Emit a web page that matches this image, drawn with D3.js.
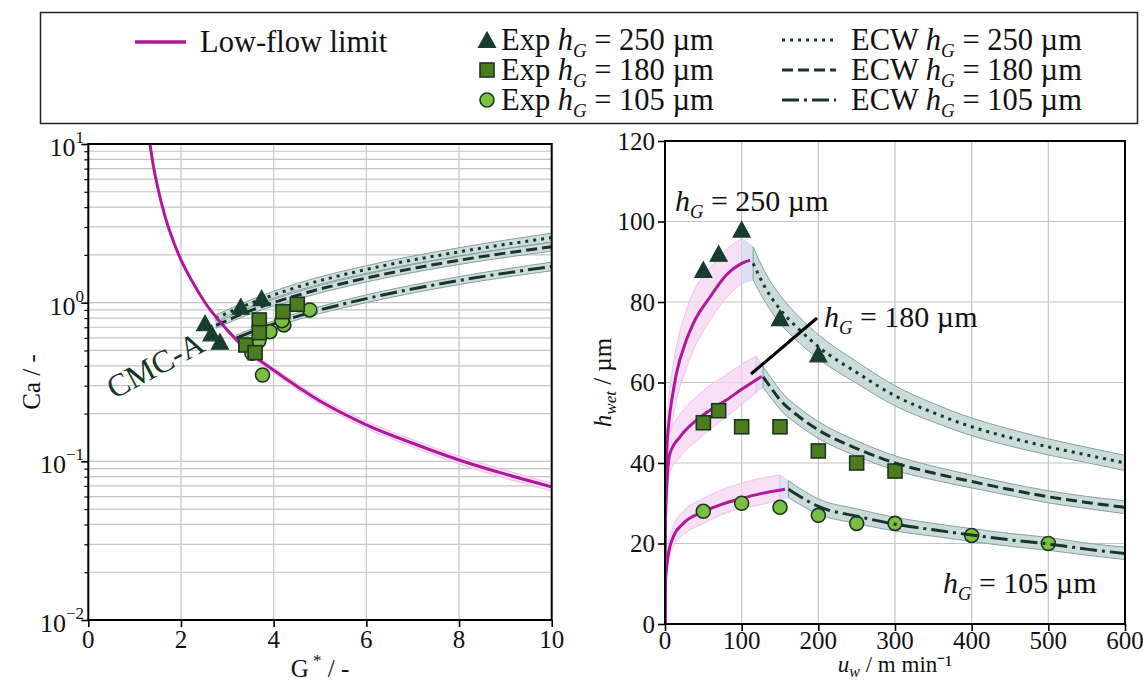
<!DOCTYPE html>
<html>
<head>
<meta charset="utf-8">
<script src="https://cdn.jsdelivr.net/npm/d3@7"></script>
<style>
  body { margin: 0; background: #fff; }
  svg { display: block; }
</style>
</head>
<body>
<svg id="fig" width="1143" height="682"></svg>
<script>
// ---------- Left panel: capillary number Ca vs. dimensionless gap G* ----------
const lowFlowCa = [[1.33,10],[1.4,7.4],[1.5,5.3],[1.65,3.55],[1.8,2.6],[2,1.86],[2.25,1.35],[2.5,1.02],[3,0.67],[3.5,0.48],[4,0.375],[5,0.24],[6,0.17],[7,0.13],[8,0.102],[9,0.083],[10,0.069]];
const lowFlowCaBand = [[3,0.65,0.69],[3.5,0.465,0.495],[4,0.36,0.39],[5,0.229,0.252],[6,0.161,0.179],[7,0.123,0.137],[8,0.096,0.108],[9,0.078,0.088],[10,0.065,0.073]];
const ecwCa250 = [[2.75,0.80],[3.5,0.99],[4.5,1.25],[6,1.62],[8,2.09],[10,2.57]];
const ecwCa250Band = [[2.75,0.765,0.836],[3.5,0.945,1.04],[4.5,1.19,1.32],[6,1.53,1.71],[8,1.97,2.22],[10,2.41,2.74]];
const ecwCa180 = [[2.76,0.72],[3.5,0.89],[4.5,1.11],[6,1.43],[8,1.85],[10,2.25]];
const ecwCa180Band = [[2.76,0.69,0.75],[3.5,0.85,0.93],[4.5,1.05,1.17],[6,1.35,1.51],[8,1.74,1.96],[10,2.11,2.4]];
const ecwCa105 = [[3.2,0.60],[4,0.735],[5,0.90],[6,1.06],[8,1.38],[10,1.69]];
const ecwCa105Band = [[3.2,0.575,0.626],[4,0.70,0.77],[5,0.855,0.945],[6,1.0,1.12],[8,1.30,1.46],[10,1.59,1.8]];
const expCa250 = [[2.52,0.742],[2.66,0.641],[2.84,0.568],[3.29,0.944],[3.74,1.066]];
const expCa180 = [[3.40,0.541],[3.6,0.484],[3.69,0.778],[3.69,0.647],[4.2,0.878],[4.51,0.977]];
const expCa105 = [[3.53,0.48],[3.76,0.35],[3.68,0.574],[3.92,0.656],[4.22,0.724],[4.18,0.77],[4.78,0.90]];
const gTicks = [0, 2, 4, 6, 8, 10];
const caDecades = [-2, -1, 0, 1];

// ---------- Right panel: wet film thickness vs. web speed ----------
const lowFlowH250 = [[0,0],[0.3,28],[1,35],[2,42],[5,50],[10,57],[15,62.3],[28,70.6],[37,74.7],[59,81.3],[80,86.7],[100,89.6],[111,90.4]];
const lowFlowH250Band = [[0,0,0],[0.3,24,32],[1,30,40],[2,36.5,47.5],[5,44,56],[10,50.5,63.5],[15,55.5,69],[28,63.5,78],[37,68,82.5],[59,75.5,88.5],[80,81,93],[100,84.6,95.8]];
const lowFlowH180 = [[0,0],[0.3,22],[1,28],[2.5,35],[6.5,42.4],[19.6,46.5],[41.3,50.7],[60,53.3],[80.5,55.7],[100,58.3],[126,61.5]];
const lowFlowH180Band = [[0,0,0],[0.3,19,25],[1,24.5,31.5],[2.5,31,39.5],[6.5,37.5,47.5],[19.6,41.5,52],[41.3,45.5,56.5],[60,48.5,59.5],[80.5,51.5,62],[100,54.5,64.5],[119,57.5,66.6]];
const lowFlowH105 = [[0,0],[0.3,8],[1,11.5],[2.2,14.2],[5,18],[10.9,21.7],[24,25],[50,27.9],[75,29.8],[100,31.2],[125,32.4],[156.5,33.5]];
const lowFlowH105Band = [[0,0,0],[0.3,7,9],[1,10,13],[2.2,12.5,16],[5,16,20.2],[10.9,19.3,24.3],[24,22.2,28],[50,25,31.2],[75,27.2,33.4],[100,28.8,35],[125,29.6,36.2],[150,31,37]];
const ecwH250 = [[115,89.6],[130,83.8],[150,78.2],[175,73.2],[200,68.9],[250,62.5],[300,56.7],[350,52.5],[400,49],[450,46.3],[500,44],[550,42],[600,40]];
const ecwH250Band = [[115,85.5,93.7],[130,80.2,87.6],[150,74.7,81.7],[175,69.9,76.3],[200,65.9,71.9],[250,59.8,65.2],[300,54.2,59.2],[350,50.2,54.8],[400,46.8,51.2],[450,44.2,48.4],[500,42,46],[550,40.1,43.9],[600,38.1,41.9]];
const ecwH180 = [[128,61.4],[140,58.2],[150,55.7],[175,51.5],[200,48.2],[250,43.6],[300,40],[350,37.5],[400,35.4],[450,33.4],[500,31.6],[550,30.2],[600,29]];
const ecwH180Band = [[128,58.8,64],[140,55.7,60.7],[150,53.3,58.1],[175,49.3,53.7],[200,46.1,50.3],[250,41.7,45.5],[300,38.2,41.8],[350,35.8,39.2],[400,33.8,37],[450,31.9,34.9],[500,30.1,33.1],[550,28.7,31.7],[600,27.4,30.6]];
const ecwH105 = [[161,33.5],[175,31.8],[200,29.2],[250,26.8],[300,24.8],[350,23.4],[400,22.1],[450,20.9],[500,19.9],[550,18.6],[600,17.5]];
const ecwH105Band = [[161,31.4,35.6],[175,29.8,33.8],[200,27.3,31.1],[250,25,28.6],[300,23.1,26.5],[350,21.8,25],[400,20.5,23.7],[450,19.3,22.5],[500,18.3,21.5],[550,17.1,20.1],[600,16,19.1]];
const expH250 = [[50,88],[70,92],[100,98],[150,76],[200,67]];
const expH180 = [[50,50],[70,53],[100,49],[150,49],[200,43],[250,40],[300,38]];
const expH105 = [[50,28],[100,30],[150,29],[200,27],[250,25],[300,25],[400,22],[500,20]];
const uTicks = [0, 100, 200, 300, 400, 500, 600];
const hTicks = [0, 20, 40, 60, 80, 100, 120];

// Gap heights shown in the legend and annotations
const gapHeights = [250, 180, 105];

// ---------- Styling ----------
const FONT = '"Liberation Serif","Times New Roman",serif';
const INK = '#17352b';
const MAGENTA = '#b0189c';
const TRI_FILL = '#173d30', SQ_FILL = '#4b7c1d', CI_FILL = '#7cbf40', EDGE = '#1b3524';
const BAND_FILL = '#c2d5d3', BAND_EDGE = '#84a39f';
const PINK_FILL = '#f6d4f1', PINK_EDGE = '#ecb6e4';
const LAV_FILL = '#dfdff6';
const GRID = '#c4c4c4';
const DASH = { 250: '3,5', 180: '11,5', 105: '17,5,3,5' };
const TICK_FS = 25, ANNOT_FS = 30, LEGEND_FS = 30.5;

const svg = d3.select('#fig');

function bandArea(x, y) {
  return d3.area().x(d => x(d[0])).y0(d => y(d[1])).y1(d => y(d[2])).curve(d3.curveMonotoneX);
}
function curveLine(x, y) {
  return d3.line().x(d => x(d[0])).y(d => y(d[1])).curve(d3.curveMonotoneX);
}
function drawMarkers(g, data, kind, x, y) {
  const sel = g.append('g');
  data.forEach(d => {
    const cx = x(d[0]), cy = y(d[1]);
    if (kind === 'tri') {
      sel.append('path').attr('d', `M${cx},${cy - 8}L${cx + 8.5},${cy + 7.5}L${cx - 8.5},${cy + 7.5}Z`)
        .attr('fill', TRI_FILL).attr('stroke', TRI_FILL).attr('stroke-width', 1.2).attr('stroke-linejoin', 'miter');
    } else if (kind === 'sq') {
      sel.append('rect').attr('x', cx - 7).attr('y', cy - 7).attr('width', 14).attr('height', 14)
        .attr('fill', SQ_FILL).attr('stroke', EDGE).attr('stroke-width', 1.6);
    } else {
      sel.append('circle').attr('cx', cx).attr('cy', cy).attr('r', 7)
        .attr('fill', CI_FILL).attr('stroke', EDGE).attr('stroke-width', 1.6);
    }
  });
}
function hG(sel, x, y, size, rest) {
  const t = sel.append('text').attr('x', x).attr('y', y).attr('font-family', FONT).attr('font-size', size).attr('fill', '#111');
  t.append('tspan').attr('font-style', 'italic').text('h');
  t.append('tspan').attr('font-style', 'italic').attr('font-size', size * 0.62).attr('dy', size * 0.22).text('G');
  t.append('tspan').attr('dy', -size * 0.22).text(rest);
  return t;
}

// =============== Left panel ===============
const L = { x0: 88.3, x1: 551.7, y0: 144, y1: 620 };
const xL = d3.scaleLinear().domain([0, 10]).range([L.x0, L.x1]);
const yL = d3.scaleLog().domain([0.01, 10]).range([L.y1, L.y0]);
const gL = svg.append('g');

svg.append('clipPath').attr('id', 'clipL').append('rect')
  .attr('x', L.x0).attr('y', L.y0).attr('width', L.x1 - L.x0).attr('height', L.y1 - L.y0);

const caMajor = caDecades.map(e => Math.pow(10, e));
const caMinor = [];
caDecades.slice(0, -1).forEach(e => { for (let m = 2; m <= 9; m++) caMinor.push(m * Math.pow(10, e)); });

// grid
const gridL = gL.append('g').attr('stroke', GRID).attr('stroke-width', 1.2);
gTicks.slice(1, -1).forEach(v => gridL.append('line').attr('x1', xL(v)).attr('x2', xL(v)).attr('y1', L.y0).attr('y2', L.y1));
caMajor.concat(caMinor).forEach(v => gridL.append('line').attr('x1', L.x0).attr('x2', L.x1).attr('y1', yL(v)).attr('y2', yL(v)));

const plotL = gL.append('g').attr('clip-path', 'url(#clipL)');
[ecwCa250Band, ecwCa180Band, ecwCa105Band].forEach(b => {
  plotL.append('path').attr('d', bandArea(xL, yL)(b)).attr('fill', BAND_FILL).attr('fill-opacity', 0.8)
    .attr('stroke', BAND_EDGE).attr('stroke-width', 1);
});
plotL.append('path').attr('d', bandArea(xL, yL)(lowFlowCaBand)).attr('fill', PINK_FILL).attr('fill-opacity', 0.8)
  .attr('stroke', PINK_EDGE).attr('stroke-width', 0.8);
[[ecwCa250, 250], [ecwCa180, 180], [ecwCa105, 105]].forEach(([d, k]) => {
  plotL.append('path').attr('d', curveLine(xL, yL)(d)).attr('fill', 'none').attr('stroke', INK)
    .attr('stroke-width', 3).attr('stroke-dasharray', DASH[k]);
});
plotL.append('path').attr('d', curveLine(xL, yL)(lowFlowCa)).attr('fill', 'none').attr('stroke', MAGENTA).attr('stroke-width', 3);
drawMarkers(plotL, expCa105, 'ci', xL, yL);
drawMarkers(plotL, expCa180, 'sq', xL, yL);
drawMarkers(plotL, expCa250, 'tri', xL, yL);

// material label
gL.append('text').attr('transform', `translate(${155},${365}) rotate(-28)`).attr('text-anchor', 'middle')
  .attr('font-family', FONT).attr('font-size', 32).attr('fill', INK).attr('dy', '0.35em').text('CMC-A');

// axes
gL.append('g').attr('transform', `translate(0,${L.y1})`)
  .call(d3.axisBottom(xL).tickValues(gTicks).tickSize(7).tickFormat(''))
  .call(a => a.select('.domain').remove()).selectAll('line').attr('stroke', '#000').attr('stroke-width', 1.6);
gL.append('g').attr('transform', `translate(${L.x0},0)`)
  .call(d3.axisLeft(yL).tickValues(caMajor).tickSize(7).tickFormat(''))
  .call(a => a.select('.domain').remove()).selectAll('line').attr('stroke', '#000').attr('stroke-width', 1.6);
gL.append('g').attr('transform', `translate(${L.x0},0)`)
  .call(d3.axisLeft(yL).tickValues(caMinor).tickSize(4).tickFormat(''))
  .call(a => a.select('.domain').remove()).selectAll('line').attr('stroke', '#000').attr('stroke-width', 1.2);
gL.append('rect').attr('x', L.x0).attr('y', L.y0).attr('width', L.x1 - L.x0).attr('height', L.y1 - L.y0)
  .attr('fill', 'none').attr('stroke', '#000').attr('stroke-width', 2);

gTicks.forEach(v => gL.append('text').attr('x', xL(v)).attr('y', 648).attr('text-anchor', 'middle')
  .attr('font-family', FONT).attr('font-size', TICK_FS).attr('fill', '#111').text(v));
caDecades.forEach(e => {
  const t = gL.append('text').attr('x', 84).attr('y', yL(Math.pow(10, e)) + 12).attr('text-anchor', 'end')
    .attr('font-family', FONT).attr('font-size', TICK_FS + 1).attr('fill', '#111');
  t.append('tspan').text('10');
  t.append('tspan').attr('font-size', 17).attr('dy', -13).text(e < 0 ? '\u2212' + Math.abs(e) : e);
});
gL.append('text').attr('transform', `translate(40,${(L.y0 + L.y1) / 2}) rotate(-90)`).attr('text-anchor', 'middle')
  .attr('font-family', FONT).attr('font-size', 25).attr('fill', '#111').text('Ca / -');
{
  const t = gL.append('text').attr('x', (L.x0 + L.x1) / 2).attr('y', 677).attr('text-anchor', 'middle')
    .attr('font-family', FONT).attr('font-size', 25).attr('fill', '#111');
  t.append('tspan').text('G');
  t.append('tspan').attr('font-size', 17).attr('dy', -11).text(' *');
  t.append('tspan').attr('dy', 11).text(' / -');
}

// =============== Right panel ===============
const R = { x0: 665, x1: 1125, y0: 141, y1: 624 };
const xR = d3.scaleLinear().domain([0, 600]).range([R.x0, R.x1]);
const yR = d3.scaleLinear().domain([0, 120]).range([R.y1, R.y0]);
const gR = svg.append('g');
svg.append('clipPath').attr('id', 'clipR').append('rect')
  .attr('x', R.x0).attr('y', R.y0).attr('width', R.x1 - R.x0).attr('height', R.y1 - R.y0);

const gridR = gR.append('g').attr('stroke', GRID).attr('stroke-width', 1.2);
uTicks.slice(1, -1).forEach(v => gridR.append('line').attr('x1', xR(v)).attr('x2', xR(v)).attr('y1', R.y0).attr('y2', R.y1));
hTicks.slice(1, -1).forEach(v => gridR.append('line').attr('x1', R.x0).attr('x2', R.x1).attr('y1', yR(v)).attr('y2', yR(v)));

const plotR = gR.append('g').attr('clip-path', 'url(#clipR)');
const pinkBands = [lowFlowH250Band, lowFlowH180Band, lowFlowH105Band];
const grayBands = [ecwH250Band, ecwH180Band, ecwH105Band];
pinkBands.forEach((b, i) => {
  plotR.append('path').attr('d', bandArea(xR, yR)(b)).attr('fill', PINK_FILL).attr('fill-opacity', 0.75)
    .attr('stroke', PINK_EDGE).attr('stroke-width', 0.8);
  // transition patch between the low-flow band end and the ECW band start
  const a = b[b.length - 1], c = grayBands[i][0];
  plotR.append('path').attr('d', bandArea(xR, yR).curve(d3.curveLinear)([a, c]))
    .attr('fill', LAV_FILL).attr('stroke', '#c9c9ee').attr('stroke-width', 0.6);
});
grayBands.forEach(b => {
  plotR.append('path').attr('d', bandArea(xR, yR)(b)).attr('fill', BAND_FILL).attr('fill-opacity', 0.85)
    .attr('stroke', BAND_EDGE).attr('stroke-width', 1);
});
[lowFlowH250, lowFlowH180, lowFlowH105].forEach(d => {
  plotR.append('path').attr('d', curveLine(xR, yR)(d)).attr('fill', 'none').attr('stroke', MAGENTA).attr('stroke-width', 3);
});
drawMarkers(plotR, expH250, 'tri', xR, yR);
drawMarkers(plotR, expH180, 'sq', xR, yR);
drawMarkers(plotR, expH105, 'ci', xR, yR);
[[ecwH250, 250], [ecwH180, 180], [ecwH105, 105]].forEach(([d, k]) => {
  plotR.append('path').attr('d', curveLine(xR, yR)(d)).attr('fill', 'none').attr('stroke', INK)
    .attr('stroke-width', 3).attr('stroke-dasharray', DASH[k]);
});

// annotations
hG(gR, 675, 211, ANNOT_FS, ' = ' + gapHeights[0] + ' \u00b5m');
gR.append('line').attr('x1', 751).attr('y1', 374).attr('x2', 817).attr('y2', 318).attr('stroke', '#000').attr('stroke-width', 3);
hG(gR, 824, 327, ANNOT_FS, ' = ' + gapHeights[1] + ' \u00b5m');
hG(gR, 943, 593, ANNOT_FS, ' = ' + gapHeights[2] + ' \u00b5m');

// axes
gR.append('g').attr('transform', `translate(0,${R.y1})`)
  .call(d3.axisBottom(xR).tickValues(uTicks).tickSize(7).tickFormat(''))
  .call(a => a.select('.domain').remove()).selectAll('line').attr('stroke', '#000').attr('stroke-width', 1.6);
gR.append('g').attr('transform', `translate(${R.x0},0)`)
  .call(d3.axisLeft(yR).tickValues(hTicks).tickSize(7).tickFormat(''))
  .call(a => a.select('.domain').remove()).selectAll('line').attr('stroke', '#000').attr('stroke-width', 1.6);
gR.append('rect').attr('x', R.x0).attr('y', R.y0).attr('width', R.x1 - R.x0).attr('height', R.y1 - R.y0)
  .attr('fill', 'none').attr('stroke', '#000').attr('stroke-width', 2);

uTicks.forEach(v => gR.append('text').attr('x', xR(v)).attr('y', 649).attr('text-anchor', 'middle')
  .attr('font-family', FONT).attr('font-size', TICK_FS).attr('fill', '#111').text(v));
hTicks.forEach(v => gR.append('text').attr('x', 655).attr('y', yR(v) + 8.5).attr('text-anchor', 'end')
  .attr('font-family', FONT).attr('font-size', TICK_FS).attr('fill', '#111').text(v));
{
  const t = gR.append('text').attr('transform', `translate(611,${(R.y0 + R.y1) / 2}) rotate(-90)`).attr('text-anchor', 'middle')
    .attr('font-family', FONT).attr('font-size', 25).attr('fill', '#111');
  t.append('tspan').attr('font-style', 'italic').text('h');
  t.append('tspan').attr('font-style', 'italic').attr('font-size', 17).attr('dy', 5).text('wet');
  t.append('tspan').attr('dy', -5).text(' / \u00b5m');
}
{
  const t = gR.append('text').attr('x', (R.x0 + R.x1) / 2).attr('y', 672).attr('text-anchor', 'middle')
    .attr('font-family', FONT).attr('font-size', 23).attr('fill', '#111');
  t.append('tspan').attr('font-style', 'italic').text('u');
  t.append('tspan').attr('font-style', 'italic').attr('font-size', 16).attr('dy', 5).text('w');
  t.append('tspan').attr('dy', -5).text(' / m min\u207b\u00b9');
}

// =============== Legend ===============
const lg = svg.append('g');
lg.append('rect').attr('x', 40.5).attr('y', 12.5).attr('width', 1097).attr('height', 111)
  .attr('fill', '#fff').attr('stroke', '#222').attr('stroke-width', 1.5);
lg.append('line').attr('x1', 135).attr('x2', 186).attr('y1', 42).attr('y2', 42).attr('stroke', MAGENTA).attr('stroke-width', 3.5);
lg.append('text').attr('x', 200).attr('y', 52).attr('font-family', FONT).attr('font-size', LEGEND_FS).attr('fill', '#111').text('Low-flow limit');
const kinds = ['tri', 'sq', 'ci'];
gapHeights.forEach((hg, i) => {
  const cy = 40 + 30 * i;
  drawMarkers(lg, [[487, cy]], kinds[i], v => v, v => v);
  const t = hG(lg, 501, cy + 10, LEGEND_FS, ' = ' + hg + ' \u00b5m');
  t.insert('tspan', 'tspan').text('Exp ');
  lg.append('line').attr('x1', 782).attr('x2', 836).attr('y1', cy).attr('y2', cy)
    .attr('stroke', INK).attr('stroke-width', 3).attr('stroke-dasharray', DASH[hg]);
  const t2 = hG(lg, 851, cy + 10, LEGEND_FS, ' = ' + hg + ' \u00b5m');
  t2.insert('tspan', 'tspan').text('ECW ');
});
</script>
</body>
</html>
